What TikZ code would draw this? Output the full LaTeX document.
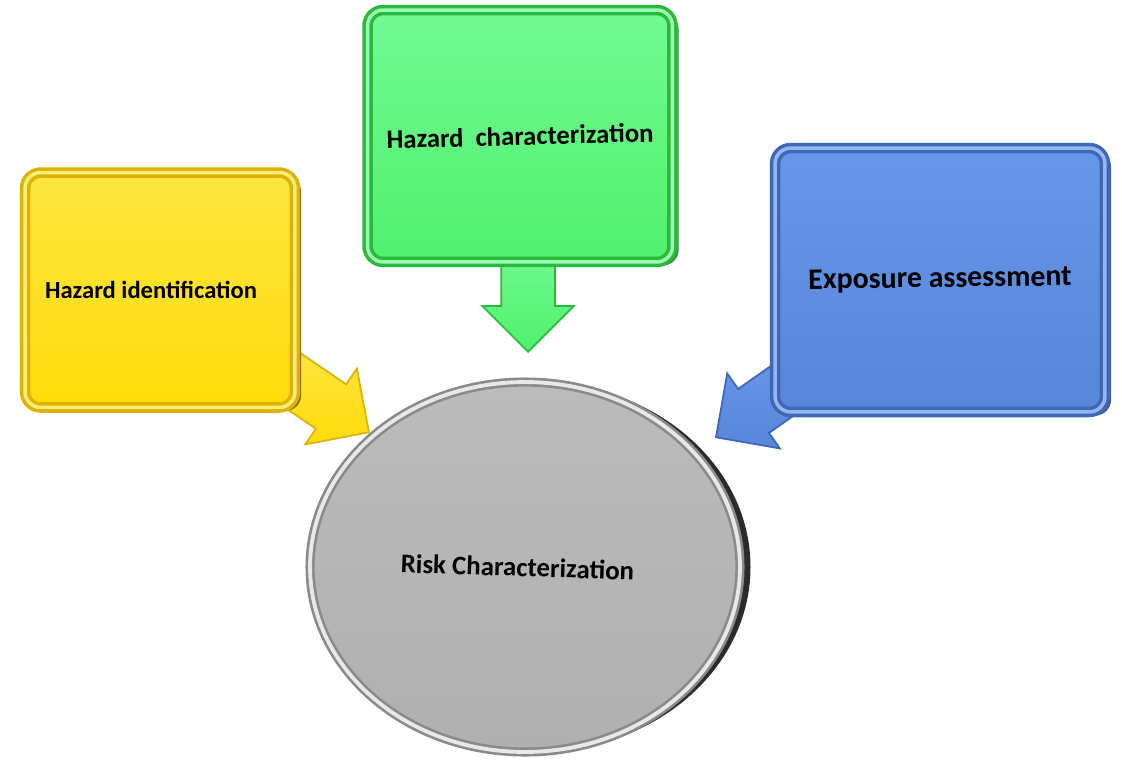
\documentclass[tikz,border=0pt]{standalone}
\usepackage{fontspec}
\setmainfont{Carlito}
\usetikzlibrary{shapes.geometric,shapes.arrows,shadows,backgrounds}

\definecolor{yface}{HTML}{FFDC0A}
\definecolor{ylight}{HTML}{FFE53F}
\definecolor{yrim}{HTML}{DDB200}
\definecolor{yside}{HTML}{6E5800}
\definecolor{gface}{HTML}{4FF16E}
\definecolor{glight}{HTML}{72FA92}
\definecolor{grim}{HTML}{2BB83D}
\definecolor{gside}{HTML}{1A6E25}
\definecolor{bface}{HTML}{5886D9}
\definecolor{blight}{HTML}{6797E8}
\definecolor{brim}{HTML}{3D68B6}
\definecolor{bside}{HTML}{223F6C}
\definecolor{rface}{HTML}{B0B0B0}
\definecolor{rlight}{HTML}{BBBBBB}
\definecolor{rrim}{HTML}{8A8A8A}
\definecolor{rside}{HTML}{141414}

\tikzset{
  panel/.style={rectangle, rounded corners=9pt, draw=#1rim, line width=2pt,
    double=#1light!70!white, double distance=2pt,
    top color=#1light, bottom color=#1face,
    drop shadow={shadow xshift=3.5pt, shadow yshift=-2pt, fill=#1side, opacity=0.85},
    font=\bfseries, text=black, align=center, inner sep=0pt},
  blockarrow/.style={single arrow, draw=#1rim, line width=1pt,
    top color=#1light, bottom color=#1face,
    minimum height=2.2cm, inner xsep=0pt, inner ysep=0.52cm,
    single arrow head extend=0.38cm, sloped, allow upside down, anchor=tip},
}

\begin{document}
\begin{tikzpicture}[x=0.02cm,y=-0.02cm]
  \useasboundingbox (0,0) rectangle (1122,764);

  % the three inputs
  \node[panel=y, minimum width=5.4cm, minimum height=4.7cm] (hazid) at (160,290)
    {\fontsize{14}{17}\selectfont\hspace*{-0.36cm}Hazard identification};
  \node[panel=g, minimum width=6.1cm, minimum height=5.04cm] (hazchar) at (520,136)
    {\fontsize{15.2}{18}\selectfont\rotatebox{1.5}{Hazard~~characterization}};
  \node[panel=b, minimum width=6.6cm, minimum height=5.28cm] (expo) at (940,280)
    {\fontsize{17}{20}\selectfont\rotatebox{0.8}{Exposure assessment}};

  % the result
  \node[ellipse, minimum width=8.6cm, minimum height=7.4cm,
    draw=rrim, line width=1.5pt, double=white!82!gray, double distance=2.2pt,
    top color=rlight, bottom color=rface,
    drop shadow={shadow xshift=6pt, shadow yshift=0pt, fill=rside, opacity=0.9},
    font=\bfseries] (risk) at (525,567)
    {\fontsize{15.3}{18}\selectfont\hspace*{-0.3cm}\rotatebox{-1.8}{Risk Characterization}};

  % where the arrow tips end
  \coordinate (hit-hazid) at (370,433);
  \coordinate (hit-hazchar) at (528,353);
  \coordinate (hit-expo) at (715,438);

  \begin{pgfonlayer}{background}
    \foreach \from/\src/\col in {hazid/hazid.center/y, hazchar/hazchar.south -| hit-hazchar/g, expo/expo.center/b}
      \path (\src) -- (hit-\from) node[blockarrow=\col, pos=1] (arrow-\from) {};
  \end{pgfonlayer}
\end{tikzpicture}
\end{document}
